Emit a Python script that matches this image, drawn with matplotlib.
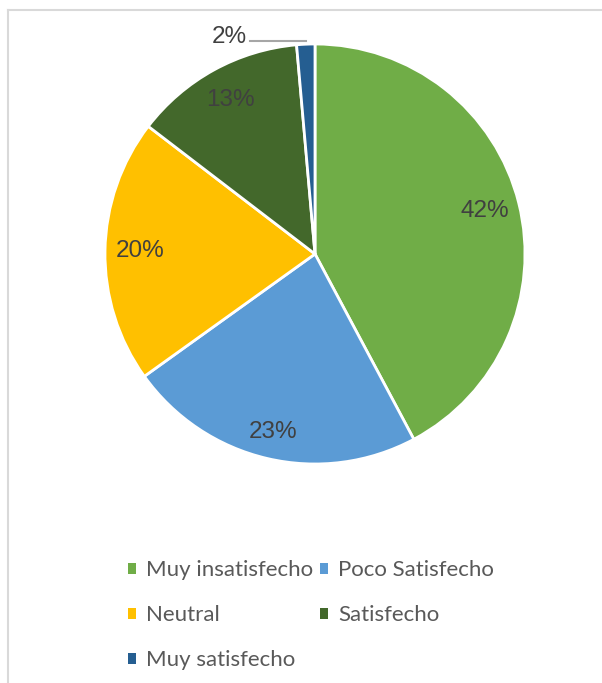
import matplotlib.pyplot as plt
from matplotlib.patches import Patch
from matplotlib.lines import Line2D

categories = ['Muy insatisfecho', 'Poco Satisfecho', 'Neutral', 'Satisfecho', 'Muy satisfecho']
values = [42.2, 22.9, 20.3, 13.2, 1.4]
labels = ['42%', '23%', '20%', '13%', '2%']
colors = ['#70AD47', '#5B9BD5', '#FFC000', '#43682B', '#255E91']

W, H = 602, 683
fig = plt.figure(figsize=(W / 100, H / 100), dpi=100)

# frame lines (top and left only are visible)
fig.add_artist(Line2D([8 / W, 1], [1 - 10 / H, 1 - 10 / H], color='#D9D9D9', lw=1.5))
fig.add_artist(Line2D([8 / W, 8 / W], [0, 1 - 10 / H], color='#D9D9D9', lw=1.5))

cx, cy, r = 315, 254, 210
ax = fig.add_axes([(cx - r) / W, (H - cy - r) / H, 2 * r / W, 2 * r / H])

wedges, texts = ax.pie(
    values, colors=colors, startangle=90, counterclock=False, radius=1,
    wedgeprops=dict(edgecolor='white', linewidth=2),
    labels=labels, labeldistance=0.835,
    textprops=dict(fontsize=17.5, color='#404040', family='Liberation Sans',
                   ha='center', va='center'))
ax.set_xlim(-1, 1)
ax.set_ylim(-1, 1)
ax.set_aspect('equal')
ax.axis('off')

# the blue slice label sits a bit further out
x, y = texts[1].get_position()
texts[1].set_position((x * 0.87 / 0.835, y * 0.87 / 0.835))

# small slice: label outside with leader line
small = texts[-1]
small.set_position((-0.41, 1.035))
ax.plot([-0.31, -0.045], [1.012, 1.012], color='#A6A6A6', lw=1.5, clip_on=False)

handles = [Patch(facecolor=c, edgecolor='none') for c in colors]
order = [0, 2, 4, 1, 3]
leg = fig.legend([handles[i] for i in order], [categories[i] for i in order],
                 ncol=2, loc='upper left', bbox_to_anchor=(108 / W, 1 - 540 / H),
                 frameon=False, handlelength=0.38, handleheight=0.38,
                 handletextpad=0.45, columnspacing=0.28, labelspacing=1.13,
                 prop=dict(family='Lato', size=16))
for t in leg.get_texts():
    t.set_color('#595959')

fig.savefig('out.png', dpi=100)
